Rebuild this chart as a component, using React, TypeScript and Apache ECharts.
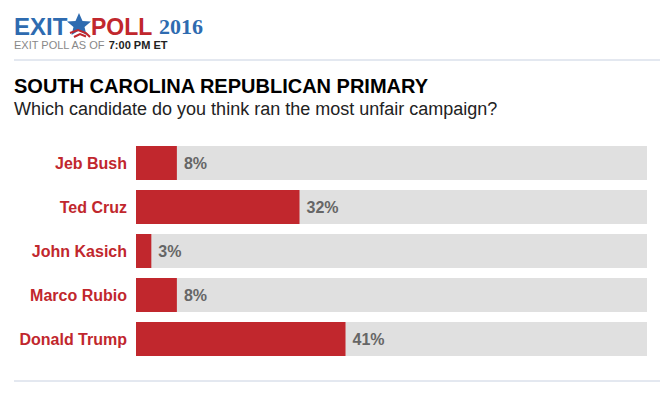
import React, { useEffect, useRef } from "react";
import * as echarts from "echarts";

const candidates = ["Jeb Bush", "Ted Cruz", "John Kasich", "Marco Rubio", "Donald Trump"];
const shares = [8, 32, 3, 8, 41];
const fullScale = [100, 100, 100, 100, 100];

const RED = "#c1272d";
const BLUE = "#2e6bb0";
const FONT = "'Liberation Sans', Arial, sans-serif";

export default function App() {
  const ref = useRef<HTMLDivElement>(null);
  useEffect(() => {
    if (!ref.current) return;
    const chart = echarts.init(ref.current, null, { renderer: "svg" });
    chart.setOption({
      animation: false,
      backgroundColor: "#ffffff",
      grid: { left: 136, right: 13, top: 141, height: 220, containLabel: false },
      xAxis: { type: "value", min: 0, max: 100, show: false },
      yAxis: {
        type: "category",
        data: candidates,
        inverse: true,
        axisLine: { show: false },
        axisTick: { show: false },
        splitLine: { show: false },
        axisLabel: {
          margin: 9,
          color: RED,
          fontFamily: FONT,
          fontWeight: "bold",
          fontSize: 16,
        },
      },
      series: [
        {
          type: "bar",
          data: fullScale,
          barWidth: 34,
          barGap: "-100%",
          itemStyle: { color: "#e0e0e0" },
          silent: true,
          z: 1,
        },
        {
          type: "bar",
          data: shares,
          barWidth: 34,
          itemStyle: { color: RED },
          z: 2,
          label: {
            show: true,
            position: "right",
            distance: 7,
            formatter: "{c}%",
            color: "#666666",
            fontFamily: FONT,
            fontWeight: "bold",
            fontSize: 16,
          },
        },
      ],
      graphic: [
        { type: "text", left: 14, top: 14, style: { text: "EXIT", fill: BLUE, font: `bold 24px ${FONT}` } },
        {
          type: "polygon",
          shape: {
            points: [
              [79, 13], [82.5, 21], [91, 21.5], [84.5, 27], [86.5, 35],
              [79, 30.5], [71.5, 35], [73.5, 27], [67, 21.5], [75.5, 21],
            ],
          },
          style: { fill: BLUE },
        },
        {
          type: "polyline",
          shape: { points: [[70, 33], [78, 30], [86, 33], [90, 37]] },
          style: { stroke: RED, lineWidth: 2, fill: "none" },
        },
        {
          type: "polyline",
          shape: { points: [[74, 37], [80, 34], [86, 36.5]] },
          style: { stroke: RED, lineWidth: 2, fill: "none" },
        },
        { type: "text", left: 91, top: 15, style: { text: "POLL", fill: RED, font: `bold 23px ${FONT}` } },
        { type: "text", left: 159, top: 15, style: { text: "2016", fill: BLUE, font: "bold 22px 'Liberation Serif', 'DejaVu Serif', serif" } },
        {
          type: "text",
          left: 14,
          top: 39,
          style: {
            rich: {
              a: { fill: "#888888", font: `11px ${FONT}` },
              b: { fill: "#222222", font: `bold 11px ${FONT}` },
            },
            text: "{a|EXIT POLL AS OF }{b|7:00 PM ET}",
          },
        },
        { type: "line", shape: { x1: 14, y1: 60, x2: 660, y2: 60 }, style: { stroke: "#c8d1e1", lineWidth: 1 } },
        {
          type: "text",
          left: 14,
          top: 76,
          style: { text: "SOUTH CAROLINA REPUBLICAN PRIMARY", fill: "#000000", font: `bold 20px ${FONT}` },
        },
        {
          type: "text",
          left: 14,
          top: 100,
          style: { text: "Which candidate do you think ran the most unfair campaign?", fill: "#222222", font: `18px ${FONT}` },
        },
        { type: "line", shape: { x1: 14, y1: 381, x2: 660, y2: 381 }, style: { stroke: "#c8d1e1", lineWidth: 1 } },
      ],
    });
    return () => chart.dispose();
  }, []);
  return <div ref={ref} style={{ width: 660, height: 399, position: "absolute", left: 0, top: 0 }} />;
}
